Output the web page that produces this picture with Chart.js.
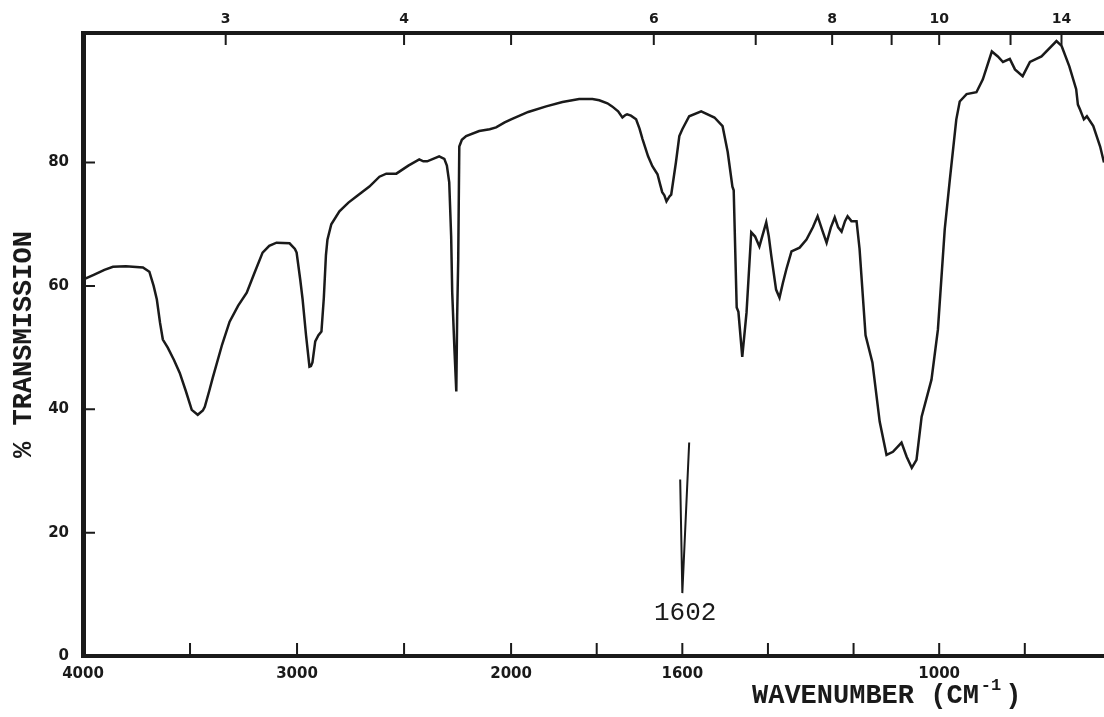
<!DOCTYPE html>
<html>
<head>
<meta charset="utf-8">
<title>IR spectrum</title>
<script src="https://cdn.jsdelivr.net/npm/chart.js@4.4.1/dist/chart.umd.min.js"></script>
<style>
  html, body { margin: 0; padding: 0; background: #fff; }
  #wrap { width: 1104px; height: 717px; }
</style>
</head>
<body>
<div id="wrap"><canvas id="irChart" width="1104" height="717"></canvas></div>
<script>
// spectrum: wavenumber (cm-1) and % transmission
const wavenumbers = [
  4000, 3950, 3900, 3860, 3800, 3720, 3690, 3670, 3655, 3640, 3627, 3604, 3575, 3548, 3520,
  3492, 3464, 3440, 3431, 3410, 3394, 3350, 3315, 3275, 3235, 3200, 3161, 3130, 3096, 3035,
  3010, 3002, 2985, 2974, 2958, 2942, 2935, 2928, 2915, 2900, 2886, 2875, 2865, 2858, 2840,
  2802, 2760, 2723, 2662, 2615, 2583, 2536, 2480, 2429, 2410, 2392, 2336, 2312, 2300, 2289,
  2280, 2275, 2265, 2256, 2252, 2247, 2242, 2230, 2210, 2149, 2100, 2070, 2030, 2000, 1960,
  1918, 1880, 1841, 1810, 1794, 1775, 1764, 1750, 1740, 1733, 1729, 1720, 1708, 1700, 1693,
  1680, 1670, 1658, 1652, 1647, 1642, 1637, 1630, 1626, 1615, 1607, 1600, 1584, 1556, 1525,
  1506, 1494, 1483, 1480, 1473, 1469, 1460, 1450, 1439, 1430, 1420, 1404, 1398, 1392, 1381,
  1373, 1365, 1357, 1345, 1326, 1310, 1295, 1284, 1273, 1263, 1253, 1244, 1236, 1228, 1220,
  1214, 1205, 1193, 1186, 1181, 1172, 1156, 1139, 1123, 1108, 1088, 1076, 1064, 1053, 1041,
  1018, 1003, 987, 975, 960, 952, 936, 913, 898, 877, 863, 851, 835, 823, 805,
  788, 761, 726, 714, 696, 680, 676, 671, 662, 655, 640, 624, 615
];
const transmission = [
  61.0, 61.8, 62.6, 63.1, 63.2, 63.0, 62.3, 60.0, 57.8, 54.0, 51.3, 50.0, 48.0, 45.9, 43.0,
  39.9, 39.1, 39.8, 40.4, 43.0, 45.1, 50.5, 54.2, 56.8, 58.9, 62.0, 65.4, 66.5, 67.0, 66.9,
  66.0, 65.4, 61.0, 57.8, 52.0, 46.9, 47.0, 47.6, 51.0, 52.0, 52.6, 58.0, 65.0, 67.5, 70.0,
  72.1, 73.5, 74.5, 76.1, 77.7, 78.2, 78.2, 79.5, 80.5, 80.2, 80.2, 81.0, 80.6, 79.5, 76.8,
  68.0, 58.9, 50.0, 42.9, 55.0, 64.3, 82.6, 83.7, 84.3, 85.1, 85.4, 85.7, 86.5, 87.0, 88.2,
  89.1, 89.8, 90.3, 90.3, 90.1, 89.6, 89.1, 88.3, 87.3, 87.7, 87.8, 87.6, 87.0, 85.5, 83.8,
  81.0, 79.4, 78.1, 76.5, 75.2, 74.7, 73.7, 74.5, 74.8, 80.0, 84.3, 85.4, 87.5, 88.3, 87.3,
  85.9, 81.7, 76.1, 75.5, 56.5, 55.8, 48.5, 55.7, 68.7, 68.0, 66.4, 70.3, 68.0, 64.8, 59.4,
  58.1, 60.5, 62.7, 65.6, 66.2, 67.5, 69.5, 71.3, 69.0, 67.0, 69.5, 71.1, 69.5, 68.8, 70.5,
  71.3, 70.5, 70.5, 66.0, 61.0, 52.0, 47.6, 38.0, 32.6, 33.1, 34.6, 32.3, 30.5, 31.8, 38.8,
  44.8, 52.9, 69.2, 77.3, 87.0, 89.9, 91.1, 91.4, 93.5, 98.0, 97.2, 96.3, 96.8, 95.1, 94.0,
  96.3, 97.2, 99.7, 98.9, 95.6, 91.9, 89.4, 88.6, 87.0, 87.5, 85.9, 82.6, 80.0
];

// the separate 1602 cm-1 calibration stroke
const calWavenumbers = [1605, 1600, 1584];
const calTransmission = [28.6, 10.2, 34.6];

const bottomTicks = [4000, 3500, 3000, 2500, 2000, 1800, 1600, 1400, 1200, 1000, 800];
const bottomLabels = [4000, 3000, 2000, 1600, 1000];
const micronTicks = [3, 4, 5, 6, 7, 8, 9, 10, 12, 14];
const micronLabels = [3, 4, 6, 8, 10, 14];
const yTicks = [0, 20, 40, 60, 80];

const WN_MIN = 615;
const WN_MAX = 4000;

// chart paper uses double scale below 2000 cm-1
function toU(wn) {
  return wn >= 2000 ? WN_MAX - wn : (WN_MAX - 2000) + 2 * (2000 - wn);
}
function fromU(u) {
  return u <= WN_MAX - 2000 ? WN_MAX - u : 2000 - (u - (WN_MAX - 2000)) / 2;
}
const U_MAX = toU(WN_MIN);

class WavenumberScale extends Chart.LinearScale {
  getPixelForValue(value) {
    if (value === null || isNaN(value)) return NaN;
    return this.getPixelForDecimal(toU(value) / U_MAX);
  }
  getValueForPixel(pixel) {
    return fromU(this.getDecimalForPixel(pixel) * U_MAX);
  }
}
WavenumberScale.id = 'wavenumber';
WavenumberScale.defaults = {};
Chart.register(WavenumberScale);

const ink = '#1a1a1a';
const tickFont = { family: 'DejaVu Sans', weight: 'bold', size: 15 };
const noGrid = { display: false, drawTicks: false };

const inwardTicks = {
  id: 'inwardTicks',
  afterDraw(chart) {
    const { ctx, chartArea, scales } = chart;
    ctx.save();
    ctx.strokeStyle = ink;
    ctx.lineWidth = 2;
    ctx.beginPath();
    scales.x.ticks.forEach(t => {
      const px = scales.x.getPixelForValue(t.value);
      ctx.moveTo(px, chartArea.bottom);
      ctx.lineTo(px, chartArea.bottom - 13);
    });
    scales.x2.ticks.forEach(t => {
      const px = scales.x2.getPixelForValue(t.value);
      ctx.moveTo(px, chartArea.top);
      ctx.lineTo(px, chartArea.top + 12);
    });
    scales.y.ticks.forEach(t => {
      const py = scales.y.getPixelForValue(t.value);
      ctx.moveTo(chartArea.left, py);
      ctx.lineTo(chartArea.left + 12, py);
    });
    ctx.stroke();
    ctx.restore();
  }
};

const typedText = {
  id: 'typedText',
  afterDraw(chart) {
    const ctx = chart.ctx;
    ctx.save();
    ctx.fillStyle = ink;
    ctx.textBaseline = 'alphabetic';
    ctx.textAlign = 'left';

    ctx.font = '26px "Liberation Mono"';
    ctx.fillText('1602', 654, 620);

    ctx.font = 'bold 27px "Liberation Mono"';
    const main = 'WAVENUMBER (CM';
    ctx.fillText(main, 752, 703);
    let x = 752 + ctx.measureText(main).width;
    ctx.font = 'bold 17px "Liberation Mono"';
    ctx.fillText('-1', x + 2, 690);
    x += 2 + ctx.measureText('-1').width;
    ctx.font = 'bold 27px "Liberation Mono"';
    ctx.fillText(')', x + 4, 703);
    ctx.restore();
  }
};

new Chart(document.getElementById('irChart'), {
  type: 'line',
  data: {
    datasets: [
      {
        label: 'spectrum',
        data: wavenumbers.map((w, i) => ({ x: w, y: transmission[i] })),
        borderColor: ink,
        borderWidth: 2.5,
        pointRadius: 0,
        tension: 0,
        fill: false
      },
      {
        label: '1602',
        data: calWavenumbers.map((w, i) => ({ x: w, y: calTransmission[i] })),
        borderColor: ink,
        borderWidth: 2,
        pointRadius: 0,
        tension: 0,
        fill: false
      }
    ]
  },
  options: {
    responsive: false,
    animation: false,
    layout: { padding: 0 },
    plugins: {
      legend: { display: false },
      tooltip: { enabled: false }
    },
    scales: {
      x: {
        type: 'wavenumber',
        position: 'bottom',
        min: WN_MIN,
        max: WN_MAX,
        afterBuildTicks: s => { s.ticks = bottomTicks.map(v => ({ value: v })); },
        afterFit: s => { s.height = 61; },
        grid: noGrid,
        border: { display: true, color: ink, width: 4 },
        ticks: {
          autoSkip: false,
          maxRotation: 0,
          padding: 9,
          color: ink,
          font: tickFont,
          callback: v => bottomLabels.includes(v) ? String(v) : ''
        }
      },
      x2: {
        type: 'wavenumber',
        position: 'top',
        min: WN_MIN,
        max: WN_MAX,
        afterBuildTicks: s => { s.ticks = micronTicks.map(m => ({ value: 10000 / m })); },
        afterFit: s => { s.height = 33; },
        grid: noGrid,
        border: { display: true, color: ink, width: 4 },
        ticks: {
          autoSkip: false,
          maxRotation: 0,
          padding: 5,
          color: ink,
          font: { family: 'DejaVu Sans', weight: 'bold', size: 14 },
          callback: v => {
            const m = Math.round(10000 / v);
            return micronLabels.includes(m) ? String(m) : '';
          }
        }
      },
      y: {
        position: 'left',
        min: 0,
        max: 101,
        afterBuildTicks: s => { s.ticks = yTicks.map(v => ({ value: v })); },
        afterFit: s => { s.width = 83; },
        grid: noGrid,
        border: { display: true, color: ink, width: 5 },
        ticks: {
          padding: 14,
          color: ink,
          font: tickFont,
          callback: v => String(v)
        },
        title: {
          display: true,
          text: '% TRANSMISSION',
          color: ink,
          padding: { top: 8, bottom: 0 },
          font: { family: 'Liberation Mono', weight: 'bold', size: 27 }
        }
      }
    }
  },
  plugins: [inwardTicks, typedText]
});
</script>
</body>
</html>
